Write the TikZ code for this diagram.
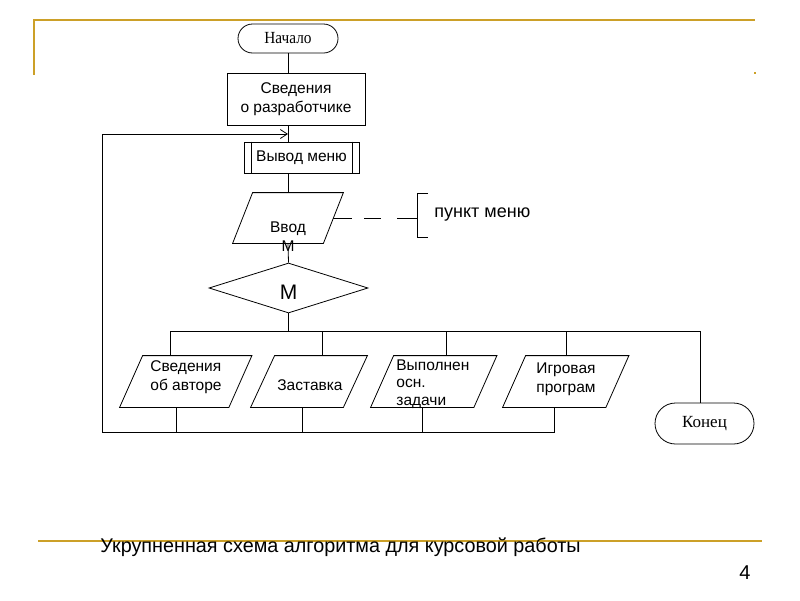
\documentclass[tikz,border=0pt]{standalone}
\usepackage{fontspec}
\setmainfont{Liberation Sans}
\newfontfamily\serifnar{Liberation Serif}
\usetikzlibrary{shapes.geometric,shapes.misc,arrows.meta}
\definecolor{gold}{RGB}{204,160,40}
\newcommand\slantbox[2]{\draw ([xshift=#2pt]#1.north west) -- ([xshift=#2pt]#1.north east) -- ([xshift=-#2pt]#1.south east) -- ([xshift=-#2pt]#1.south west) -- cycle;}
\begin{document}
\begin{tikzpicture}[x=1pt,y=-1pt, line width=0.8pt,
  base/.style={draw=black, inner sep=0pt, font=\fontsize{15.5}{19}\selectfont},
  term/.style={base, rounded rectangle, font=\serifnar\fontsize{17}{19}\selectfont},
  proc/.style={base, rectangle, align=center},
  para/.style={inner sep=0pt, rectangle},
  dec/.style={base, diamond, minimum width=159pt, minimum height=50pt, font=\fontsize{21}{24}\selectfont},
  lbl/.style={inner sep=0pt, font=\fontsize{15.5}{19}\selectfont},
  goldline/.style={draw=gold, line width=2.5pt}]
\useasboundingbox (0,0) rectangle (800,600);
% decoration lines
\draw[goldline] (33,20) -- (755,20);
\draw[goldline, line width=2pt] (34,19) -- (34,75);
\fill[gold] (754,72) rectangle (756,74);
\draw[goldline] (38,541) -- (762,541);
% main column
\node[term, minimum width=100pt, minimum height=29pt] (start) at (288,38.5) {\scalebox{0.9}[1]{Начало}};
\node[proc, minimum width=138pt, minimum height=52pt] (info) at (296,99) {Сведения\\о разработчике};
\node[proc, minimum width=115pt, minimum height=31pt] (menu) at (301.5,157.5) {Вывод меню};
\draw ([xshift=8pt]menu.north west) -- ([xshift=8pt]menu.south west);
\draw ([xshift=-7pt]menu.north east) -- ([xshift=-7pt]menu.south east);
\node[para, minimum width=90pt, minimum height=50pt] (inp) at (288,218) {};
\slantbox{inp}{10}
\node[lbl, align=center] (inptxt) at (288,237) {Ввод\\М};
\node[dec] (dm) at (288.5,288) {\raisebox{-11.5pt}[0pt][0pt]{М}};
\draw (start.south) -- (start.south |- info.north);
\draw (start.south |- info.south) -- (start.south |- menu.north);
\draw (start.south |- menu.south) -- (inp.north);
\draw (inp.south) -- (dm.north);
% note
\node[lbl, font=\fontsize{18}{21}\selectfont, anchor=west] (note) at (434,215) {пункт меню};
\coordinate (brT) at (428,193);
\coordinate (brB) at (428,237);
\coordinate (brM) at (417,218);
\draw (brT) -- (brT -| brM) -- (brB -| brM) -- (brB);
\draw[dash pattern=on 19pt off 12pt on 17pt off 16pt on 20pt] (inp.east) -- (brM);
% branches
\coordinate (bL) at (170,331);
\coordinate (bR) at (700,331);
\draw (dm.south) -- (dm.south |- bL);
\draw (bL) -- (bR);
\node[para, minimum width=108.5pt, minimum height=51pt] (p1) at (185.75,381.5) {};
\slantbox{p1}{11.5}
\node[para, minimum width=92pt, minimum height=51pt] (p2) at (309,381.5) {};
\slantbox{p2}{12}
\node[para, minimum width=102.5pt, minimum height=51pt] (p3) at (433.75,381.5) {};
\slantbox{p3}{11.5}
\node[para, minimum width=102.5pt, minimum height=51pt] (p4) at (565.75,381.5) {};
\slantbox{p4}{11.5}
\node[lbl, align=left] (t1) at (186,377) {Сведения\\об авторе};
\node[lbl] (t2) at (310,385) {Заставка};
\node[lbl, align=left, anchor=west, font=\fontsize{15.5}{17.5}\selectfont] (t3) at (396,384) {Выполнен\\осн.\\задачи};
\node[lbl, align=left, anchor=west] (t4) at (536,379.5) {Игровая\\програм};
\node[term, minimum width=99pt, minimum height=41pt] (end) at (704.5,423.5) {Конец};
\draw (bL) -- (bL |- p1.north);
\draw ([xshift=13pt]p2.north |- bL) -- ([xshift=13pt]p2.north);
\draw ([xshift=13pt]p3.north |- bL) -- ([xshift=13pt]p3.north);
\draw ([xshift=1pt]p4.north |- bL) -- ([xshift=1pt]p4.north);
\draw (bR) -- (bR |- end.north);
% return loop
\coordinate (rL) at (102,432);
\coordinate (ret) at (288,134);
\draw ([xshift=-9pt]p1.south) -- ([xshift=-9pt]p1.south |- rL);
\draw ([xshift=-7pt]p2.south) -- ([xshift=-7pt]p2.south |- rL);
\draw ([xshift=-11pt]p3.south) -- ([xshift=-11pt]p3.south |- rL);
\draw ([xshift=-11pt]p4.south) -- ([xshift=-11pt]p4.south |- rL);
\draw[-{Straight Barb[length=7pt,width=9pt]}] ([xshift=-11pt]p4.south |- rL) -- (rL) -- (rL |- ret) -- (ret);
% caption
\node[anchor=base west, inner sep=0pt, font=\fontsize{19.8}{22}\selectfont] (cap) at (100,552) {Укрупненная схема алгоритма для курсовой работы};
\node[anchor=base, inner sep=0pt, font=\fontsize{20}{22}\selectfont] (pg) at (745,579) {4};
\end{tikzpicture}
\end{document}
